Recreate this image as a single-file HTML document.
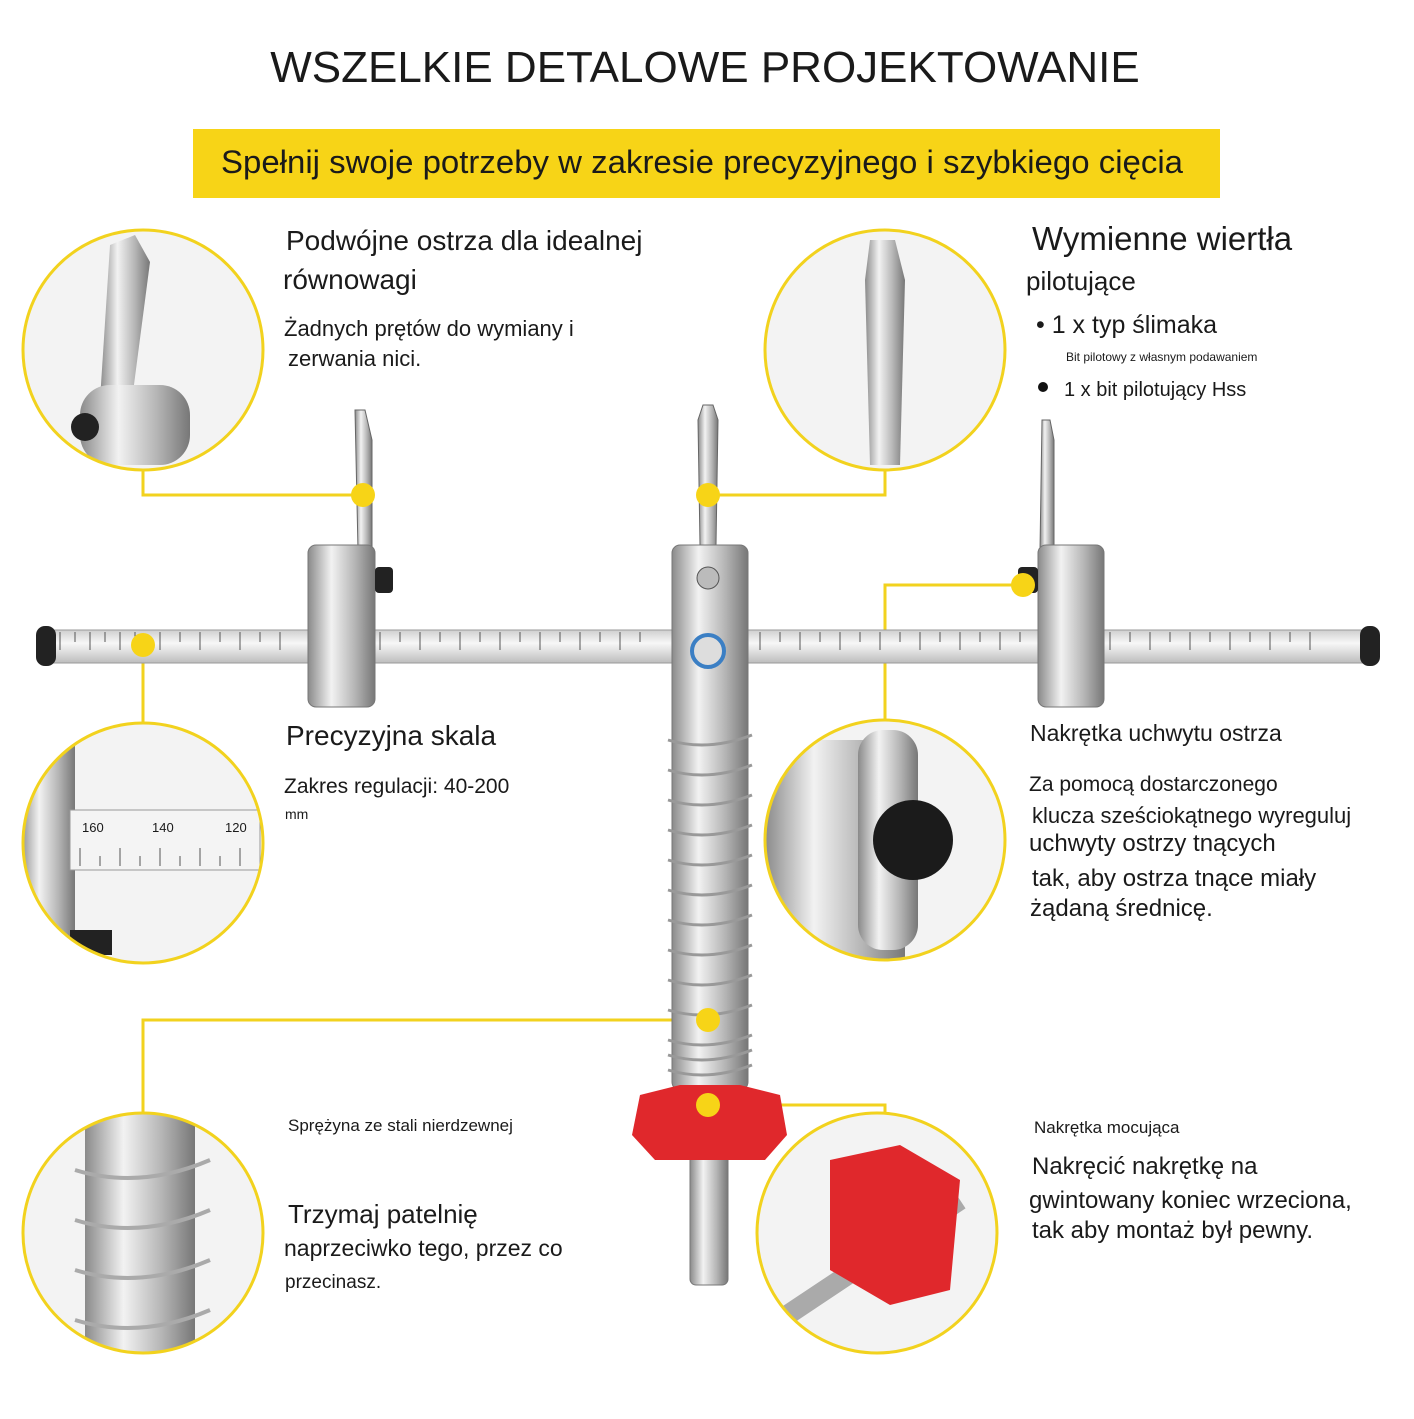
<!DOCTYPE html>
<html><head><meta charset="utf-8"><style>
body{margin:0;background:#fff}
svg text{font-family:"Liberation Sans",sans-serif;fill:#1a1a1a}
</style></head><body>
<svg width="1414" height="1414" viewBox="0 0 1414 1414" xmlns="http://www.w3.org/2000/svg">
<defs>
<linearGradient id="steel" x1="0" x2="1" y1="0" y2="0">
<stop offset="0" stop-color="#8a8a8a"/><stop offset="0.35" stop-color="#f2f2f2"/><stop offset="0.7" stop-color="#b5b5b5"/><stop offset="1" stop-color="#777"/></linearGradient>
<linearGradient id="barg" x1="0" x2="0" y1="0" y2="1">
<stop offset="0" stop-color="#cfcfcf"/><stop offset="0.4" stop-color="#f7f7f7"/><stop offset="1" stop-color="#bdbdbd"/></linearGradient>
<clipPath id="c1"><circle cx="143" cy="350" r="119"/></clipPath>
<clipPath id="c2"><circle cx="885" cy="350" r="119"/></clipPath>
<clipPath id="c3"><circle cx="143" cy="843" r="119"/></clipPath>
<clipPath id="c4"><circle cx="885" cy="840" r="119"/></clipPath>
<clipPath id="c5"><circle cx="143" cy="1233" r="119"/></clipPath>
<clipPath id="c6"><circle cx="877" cy="1233" r="119"/></clipPath>
</defs>
<text x="705" y="82" font-size="44" text-anchor="middle">WSZELKIE DETALOWE PROJEKTOWANIE</text>
<rect x="193" y="129" width="1027" height="69" fill="#f7d417"/>
<text x="702" y="173" font-size="32" text-anchor="middle" textLength="962" lengthAdjust="spacingAndGlyphs">Spełnij swoje potrzeby w zakresie precyzyjnego i szybkiego cięcia</text>

<g stroke="#f2d21e" stroke-width="3" fill="none">
<polyline points="143,470 143,495 363,495"/>
<polyline points="885,470 885,495 708,495"/>
<polyline points="1023,585 885,585 885,720"/>
<polyline points="143,645 143,723"/>
<polyline points="143,1113 143,1020 708,1020"/>
<polyline points="708,1105 885,1105 885,1113"/>
</g>

<rect x="45" y="630" width="1330" height="33" rx="4" fill="url(#barg)" stroke="#999"/>
<rect x="36" y="626" width="20" height="40" rx="9" fill="#222"/>
<rect x="1360" y="626" width="20" height="40" rx="9" fill="#222"/>
<g stroke="#555" stroke-width="1">
<path d="M60 632 V650 M75 632 V642 M90 632 V650 M105 632 V642 M120 632 V650 M135 632 V642 M160 632V650 M180 632V642 M200 632V650 M220 632V642 M240 632V650 M260 632V642 M280 632V650 M380 632V650 M400 632V642 M420 632V650 M440 632V642 M460 632V650 M480 632V642 M500 632V650 M520 632V642 M540 632V650 M560 632V642 M580 632V650 M600 632V642 M620 632V650 M640 632V642 M760 632V650 M780 632V642 M800 632V650 M820 632V642 M840 632V650 M860 632V642 M880 632V650 M900 632V642 M920 632V650 M940 632V642 M960 632V650 M980 632V642 M1000 632V650 M1020 632V642 M1110 632V650 M1130 632V642 M1150 632V650 M1170 632V642 M1190 632V650 M1210 632V642 M1230 632V650 M1250 632V642 M1270 632V650 M1290 632V642 M1310 632V650"/>
</g>

<polygon points="355,410 365,410 372,440 372,550 358,550" fill="url(#steel)" stroke="#666"/>
<rect x="308" y="545" width="67" height="162" rx="8" fill="url(#steel)" stroke="#777"/>
<rect x="375" y="567" width="18" height="26" rx="4" fill="#222"/>
<polygon points="1042,420 1050,420 1054,440 1054,550 1040,550" fill="url(#steel)" stroke="#666"/>
<rect x="1038" y="545" width="66" height="162" rx="8" fill="url(#steel)" stroke="#777"/>
<rect x="1018" y="567" width="20" height="26" rx="4" fill="#222"/>

<polygon points="703,405 713,405 718,420 716,545 700,545 698,420" fill="url(#steel)" stroke="#666"/>
<rect x="690" y="1140" width="38" height="145" rx="6" fill="url(#steel)" stroke="#777"/>
<rect x="672" y="545" width="76" height="545" rx="8" fill="url(#steel)" stroke="#777"/>
<circle cx="708" cy="578" r="11" fill="#bbb" stroke="#555"/>
<circle cx="708" cy="651" r="16" fill="#ddd" stroke="#3b7fc4" stroke-width="4"/>
<g stroke="#999" stroke-width="3" fill="none">
<path d="M668 740 Q708 752 752 735 M668 770 Q708 782 752 765 M668 800 Q708 812 752 795 M668 830 Q708 842 752 825 M668 860 Q708 872 752 855 M668 890 Q708 902 752 885 M668 920 Q708 932 752 915 M668 950 Q708 962 752 945 M668 980 Q708 992 752 975 M668 1010 Q708 1022 752 1005 M668 1040 Q708 1052 752 1035 M668 1055 Q708 1067 752 1050 M668 1070 Q708 1082 752 1065"/>
</g>
<path d="M640 1095 L680 1085 L740 1085 L780 1095 L787 1135 L765 1160 L655 1160 L632 1135 Z" fill="#e0282c"/>

<g fill="#f3f3f3" stroke="none">
<circle cx="143" cy="350" r="120"/><circle cx="885" cy="350" r="120"/>
<circle cx="143" cy="843" r="120"/><circle cx="885" cy="840" r="120"/>
<circle cx="143" cy="1233" r="120"/><circle cx="877" cy="1233" r="120"/>
</g>
<g clip-path="url(#c1)">
<polygon points="110,245 135,235 150,262 132,400 100,400" fill="url(#steel)"/>
<rect x="80" y="385" width="110" height="80" rx="30" fill="url(#steel)"/>
<circle cx="85" cy="427" r="14" fill="#222"/>
</g>
<g clip-path="url(#c2)"><polygon points="870,240 895,240 905,280 900,465 870,465 865,280" fill="url(#steel)"/></g>
<g clip-path="url(#c3)">
<rect x="20" y="720" width="55" height="250" fill="url(#steel)"/>
<rect x="70" y="810" width="190" height="60" fill="#f4f4f4" stroke="#999"/>
<text x="82" y="832" font-size="13">160</text><text x="152" y="832" font-size="13">140</text><text x="225" y="832" font-size="13">120</text>
<path d="M80 866V848 M100 866V856 M120 866V848 M140 866V856 M160 866V848 M180 866V856 M200 866V848 M220 866V856 M240 866V848" stroke="#555"/>
<rect x="70" y="930" width="42" height="25" fill="#222"/>
</g>
<g clip-path="url(#c4)">
<rect x="765" y="740" width="140" height="220" fill="url(#steel)"/>
<rect x="858" y="730" width="60" height="220" rx="25" fill="url(#steel)"/>
<circle cx="913" cy="840" r="40" fill="#1b1b1b"/>
</g>
<g clip-path="url(#c5)">
<rect x="85" y="1110" width="110" height="250" fill="url(#steel)"/>
<g stroke="#aaa" stroke-width="4" fill="none"><path d="M75 1170 Q140 1190 210 1160 M75 1220 Q140 1240 210 1210 M75 1270 Q140 1290 210 1260 M75 1320 Q140 1340 210 1310"/></g>
</g>
<g clip-path="url(#c6)">
<path d="M780 1320 L960 1200" stroke="#aaa" stroke-width="20"/>
<path d="M830 1160 L900 1145 L960 1180 L950 1290 L890 1305 L830 1270 Z" fill="#e0282c"/>
</g>
<g fill="none" stroke="#f2d21e" stroke-width="3">
<circle cx="143" cy="350" r="120"/><circle cx="885" cy="350" r="120"/>
<circle cx="143" cy="843" r="120"/><circle cx="885" cy="840" r="120"/>
<circle cx="143" cy="1233" r="120"/><circle cx="877" cy="1233" r="120"/>
</g>

<g fill="#f7d417">
<circle cx="363" cy="495" r="12"/><circle cx="708" cy="495" r="12"/>
<circle cx="1023" cy="585" r="12"/><circle cx="143" cy="645" r="12"/>
<circle cx="708" cy="1020" r="12"/><circle cx="708" cy="1105" r="12"/>
</g>

<text x="286" y="250" font-size="28">Podwójne ostrza dla idealnej</text>
<text x="283" y="289" font-size="28">równowagi</text>
<text x="284" y="336" font-size="22">Żadnych prętów do wymiany i</text>
<text x="288" y="366" font-size="22">zerwania nici.</text>
<text x="1032" y="250" font-size="33">Wymienne wiertła</text>
<text x="1026" y="290" font-size="26">pilotujące</text>
<text x="1036" y="333" font-size="25">• 1 x typ ślimaka</text>
<text x="1066" y="361" font-size="12">Bit pilotowy z własnym podawaniem</text>
<circle cx="1043" cy="387" r="5" fill="#111"/>
<text x="1064" y="396" font-size="20">1 x bit pilotujący Hss</text>
<text x="286" y="745" font-size="28">Precyzyjna skala</text>
<text x="284" y="793" font-size="21">Zakres regulacji: 40-200</text>
<text x="285" y="819" font-size="14">mm</text>
<text x="1030" y="741" font-size="23">Nakrętka uchwytu ostrza</text>
<text x="1029" y="791" font-size="21">Za pomocą dostarczonego</text>
<text x="1032" y="823" font-size="22">klucza sześciokątnego wyreguluj</text>
<text x="1029" y="851" font-size="24">uchwyty ostrzy tnących</text>
<text x="1032" y="886" font-size="24">tak, aby ostrza tnące miały</text>
<text x="1030" y="916" font-size="24">żądaną średnicę.</text>
<text x="288" y="1131" font-size="17">Sprężyna ze stali nierdzewnej</text>
<text x="288" y="1223" font-size="26">Trzymaj patelnię</text>
<text x="284" y="1256" font-size="23">naprzeciwko tego, przez co</text>
<text x="285" y="1288" font-size="19">przecinasz.</text>
<text x="1034" y="1133" font-size="17">Nakrętka mocująca</text>
<text x="1032" y="1174" font-size="24">Nakręcić nakrętkę na</text>
<text x="1029" y="1208" font-size="24">gwintowany koniec wrzeciona,</text>
<text x="1032" y="1238" font-size="24">tak aby montaż był pewny.</text>
</svg>
</body></html>
